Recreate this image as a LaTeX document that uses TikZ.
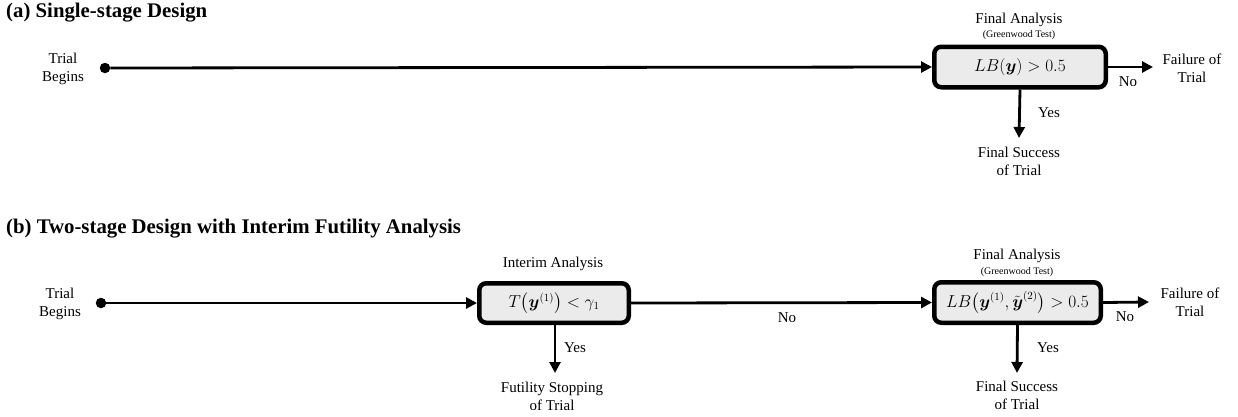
\documentclass[tikz,border=0pt]{standalone}
\usepackage{fontspec}
\setmainfont{Liberation Serif}
\usepackage{amsmath}
\usetikzlibrary{arrows.meta}
\definecolor{boxfill}{HTML}{EBEBEB}
\begin{document}
\begin{tikzpicture}[x=1pt,y=-1pt,
  txt/.style={font=\fontsize{15}{18}\selectfont, align=center, inner sep=0pt},
  small/.style={font=\fontsize{10}{12}\selectfont, inner sep=0pt},
  ttl/.style={font=\bfseries\fontsize{20.8}{24}\selectfont, anchor=west, inner sep=0pt},
  decbox/.style={draw=black, line width=4.5pt, rounded corners=7pt, fill=boxfill,
     font=\fontsize{16}{18}\selectfont, inner sep=0pt},
  flow/.style={line width=2.8pt, -{Triangle[length=11pt,width=11pt]}},
  startdot/.style={circle, fill=black, inner sep=0pt, minimum size=10.5pt}
]
\useasboundingbox (0,0) rectangle (1238,416);

% ---------- (a) ----------
\node[ttl] (ta) at (6,13) {(a) Single-stage Design};
\node[txt] (tba) at (63,69) {Trial\\Begins};
\node[startdot] (sa) at (105,68) {};
\node[decbox, minimum width=171.5pt, minimum height=40.5pt] (fa) at (1020,67)
  {$LB(\boldsymbol{y}) > 0.5$};
\node[txt] (faa) at (1019,20) {Final Analysis};
\node[small] (gta) at (1019,35) {(Greenwood Test)};
\node[txt] (fla) at (1192,68) {Failure of\\Trial};
\coordinate (fla-in) at (1153,67);
\coordinate (fsa-in) at (1019,138);
\node[txt] (fsa) at (1019,161) {Final Success\\of Trial};
\node[txt] (noa) at (1128,82) {No};
\node[txt] (yesa) at (1049,113) {Yes};
\draw[line width=2.8pt] (sa.center) -- (sa.east);
\draw[flow] (sa) -- (fa.west);
\draw[flow] (fa.east) -- (fla-in);
\draw[flow] (fa.south) -- (fsa-in);

% ---------- (b) ----------
\node[ttl] (tb) at (6,229) {(b) Two-stage Design with Interim Futility Analysis};
\node[txt] (tbb) at (60,304) {Trial\\Begins};
\node[startdot] (sb) at (101,303) {};
\node[decbox, minimum width=149.5pt, minimum height=39.5pt] (ib) at (554,303)
  {$T\bigl(\boldsymbol{y}^{(1)}\bigr) < \gamma_1$};
\node[txt] (iab) at (553,264) {Interim Analysis};
\node[decbox, minimum width=166.5pt, minimum height=40.5pt] (fb) at (1017.5,302.5)
  {$LB\bigl(\boldsymbol{y}^{(1)}{,}\,\tilde{\boldsymbol{y}}^{(2)}\bigr) > 0.5$};
\node[txt] (fab) at (1017,256) {Final Analysis};
\node[small] (gtb) at (1017,272) {(Greenwood Test)};
\node[txt] (flb) at (1190,302) {Failure of\\Trial};
\coordinate (flb-in) at (1149,302);
\coordinate (fub-in) at (555,373);
\coordinate (fsb-in) at (1017,373);
\node[txt] (fub) at (552,396) {Futility Stopping\\of Trial};
\node[txt] (fsb) at (1017,395) {Final Success\\of Trial};
\node[txt] (nob1) at (787,318) {No};
\node[txt] (nob2) at (1125,317) {No};
\node[txt] (yesb1) at (575,348) {Yes};
\node[txt] (yesb2) at (1048,348) {Yes};
\draw[line width=2.8pt] (sb.center) -- (sb.east);
\draw[flow] (sb) -- (ib.west);
\draw[flow] (ib.east) -- (fb.west);
\draw[flow] (fb.east) -- (flb-in);
\draw[flow] (ib.south -| fub-in) -- (fub-in);
\draw[flow] (fb.south) -- (fsb-in);
\end{tikzpicture}
\end{document}
